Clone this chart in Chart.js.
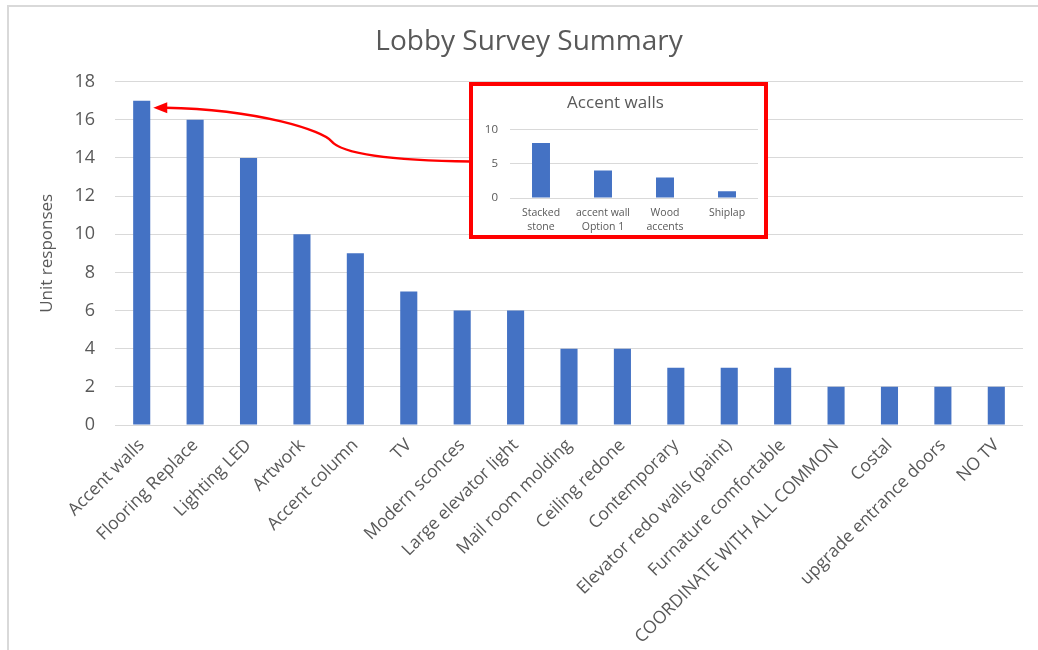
<!DOCTYPE html>
<html><head><meta charset="utf-8">
<script src="https://cdn.jsdelivr.net/npm/chart.js@4"></script>
<style>
html,body{margin:0;padding:0;background:#fff;}
#wrap{position:relative;width:1038px;height:650px;overflow:hidden;background:#fff;}
#frame{position:absolute;left:7px;top:5px;right:-10px;bottom:-10px;border-top:2px solid #d9d9d9;border-left:2px solid #d9d9d9;}
#main{position:absolute;left:0;top:0;}
#inset{position:absolute;left:469px;top:82px;width:291px;height:149px;border:4px solid #ff0000;background:#fff;}
#sub{display:block;}
</style></head><body>
<div id="wrap">
<div id="frame"></div>
<canvas id="main" width="1038" height="650"></canvas>
<div id="inset"><canvas id="sub" width="291" height="149"></canvas></div>
</div>
<script>
const mainCategories = ["Accent walls","Flooring Replace","Lighting LED","Artwork","Accent column","TV","Modern sconces","Large elevator light","Mail room molding","Ceiling redone","Contemporary","Elevator redo walls (paint)","Furnature comfortable","COORDINATE WITH ALL COMMON","Costal","upgrade entrance doors","NO TV"];
const mainValues = [17,16,14,10,9,7,6,6,4,4,3,3,3,2,2,2,2];
const mainTicks = [0,2,4,6,8,10,12,14,16,18];

const insetCategories = [["Stacked","stone"],["accent wall","Option 1"],["Wood","accents"],["Shiplap"]];
const insetValues = [8,4,3,1];
const insetTicks = [0,5,10];

const FONT = "'Open Sans', 'Noto Sans', sans-serif";
const GREY = '#595959';
const GRID = '#d9d9d9';
const BLUE = '#4472c4';

const arrowPlugin = {
  id: 'arrow',
  afterDatasetsDraw(chart) {
    const bar = chart.getDatasetMeta(0).data[0];
    const ys = chart.scales.y;
    const tipX = bar.x + bar.width / 2 + 3;
    const tipY = ys.getPixelForValue(mainValues[0]) + 7;
    const el = document.getElementById('inset');
    const sx = el.offsetLeft + 2;
    const sy = el.offsetTop + el.offsetHeight / 2 + 1;
    const kx = tipX + (sx - tipX) * 0.56;
    const ky = tipY + (sy - tipY) * 0.62;
    const ctx = chart.ctx;
    ctx.save();
    ctx.strokeStyle = '#ff0000';
    ctx.fillStyle = '#ff0000';
    ctx.lineWidth = 2.5;
    ctx.beginPath();
    ctx.moveTo(sx, sy);
    ctx.bezierCurveTo(sx - 90, sy - 1, kx + 10, ky + 12, kx, ky);
    ctx.bezierCurveTo(kx - 8, ky - 10, kx - 70, tipY + 2, tipX + 12, tipY);
    ctx.stroke();
    ctx.beginPath();
    ctx.moveTo(tipX, tipY);
    ctx.lineTo(tipX + 14, tipY - 5.5);
    ctx.lineTo(tipX + 14, tipY + 5.5);
    ctx.closePath();
    ctx.fill();
    ctx.restore();
  }
};

new Chart(document.getElementById('main'), {
  type: 'bar',
  data: {
    labels: mainCategories,
    datasets: [{ data: mainValues, backgroundColor: BLUE, barPercentage: 0.32, categoryPercentage: 1 }]
  },
  options: {
    responsive: false,
    animation: false,
    layout: { padding: { left: 35, right: 15, top: 0, bottom: 0 } },
    plugins: {
      legend: { display: false },
      tooltip: { enabled: false },
      title: {
        display: true,
        text: 'Lobby Survey Summary',
        color: GREY,
        font: { family: FONT, size: 28, weight: 'normal' },
        padding: { top: 25, bottom: 23 }
      }
    },
    scales: {
      y: {
        min: 0, max: 18,
        afterBuildTicks(s) { s.ticks = mainTicks.map(v => ({ value: v })); },
        afterFit(s) { s.width = 80; },
        ticks: { color: GREY, font: { family: FONT, size: 18 }, padding: 20 },
        grid: { color: GRID, drawTicks: false, lineWidth: 1 },
        border: { display: false },
        title: { display: true, text: 'Unit responses', color: GREY, font: { family: FONT, size: 17 }, padding: 2 }
      },
      x: {
        afterFit(s) { s.height = 225; },
        ticks: { color: GREY, font: { family: FONT, size: 17.5 }, minRotation: 45, maxRotation: 45, autoSkip: false, padding: 2 },
        grid: { display: false },
        border: { display: false }
      }
    }
  },
  plugins: [arrowPlugin]
});

new Chart(document.getElementById('sub'), {
  type: 'bar',
  data: {
    labels: insetCategories,
    datasets: [{ data: insetValues, backgroundColor: BLUE, barPercentage: 0.29, categoryPercentage: 1 }]
  },
  options: {
    responsive: false,
    animation: false,
    layout: { padding: { left: 0, right: 6, top: 0, bottom: 0 } },
    plugins: {
      legend: { display: false },
      tooltip: { enabled: false },
      title: {
        display: true,
        text: 'Accent walls',
        color: GREY,
        font: { family: FONT, size: 17, weight: 'normal' },
        padding: { top: 7, bottom: 16 }
      }
    },
    scales: {
      y: {
        min: 0, max: 10,
        afterBuildTicks(s) { s.ticks = insetTicks.map(v => ({ value: v })); },
        afterFit(s) { s.width = 37; },
        ticks: { color: GREY, font: { family: FONT, size: 11.5 }, padding: 12 },
        grid: { color: GRID, drawTicks: false, lineWidth: 1 },
        border: { display: false }
      },
      x: {
        afterFit(s) { s.height = 37; },
        ticks: { color: GREY, font: { family: FONT, size: 10.5, lineHeight: 1.35 }, maxRotation: 0, autoSkip: false, padding: 0 },
        grid: { display: false },
        border: { display: false }
      }
    }
  }
});
</script>
</body></html>
